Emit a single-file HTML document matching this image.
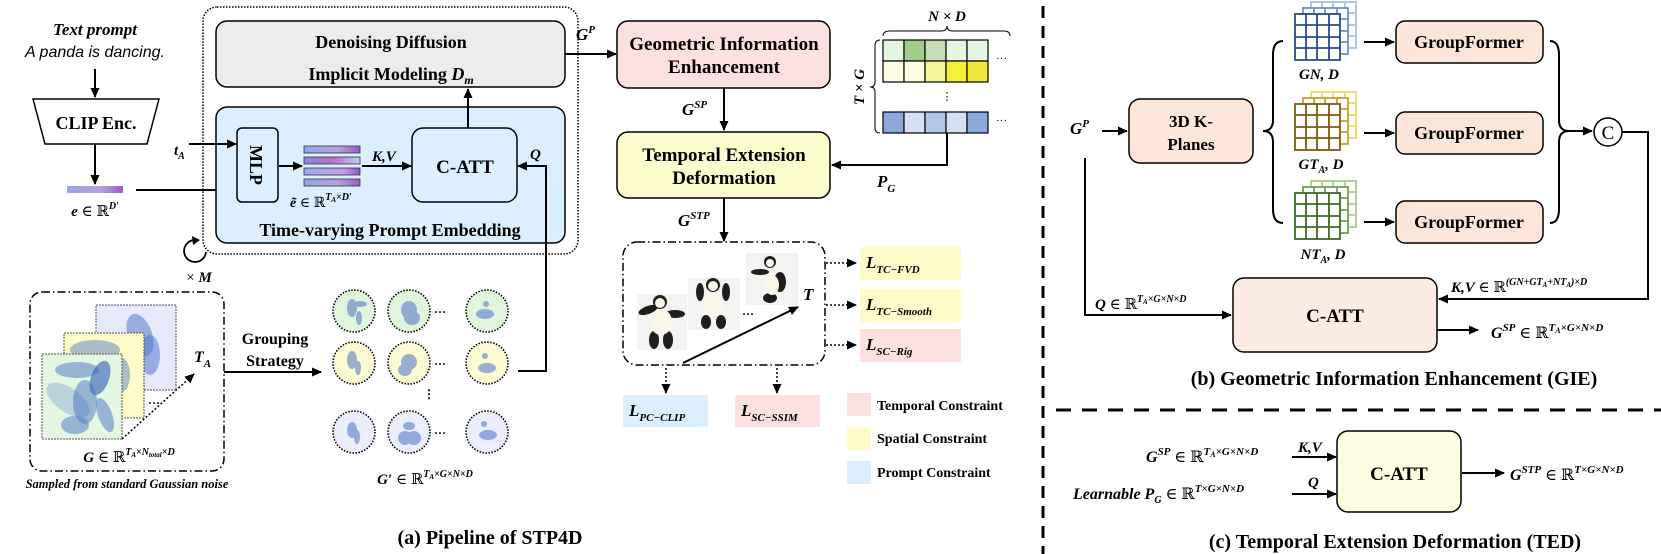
<!DOCTYPE html>
<html><head><meta charset="utf-8"><style>
html,body{margin:0;padding:0;background:#fff;}
svg{display:block;}
text{font-family:"Liberation Serif","DejaVu Serif",serif;}
.b{font-weight:bold;}
.m{font-weight:bold;font-style:italic;}
</style></head><body>
<svg width="1661" height="554" viewBox="0 0 1661 554" xmlns="http://www.w3.org/2000/svg">
<defs>
<marker id="a" markerWidth="10" markerHeight="10" refX="9" refY="5" orient="auto" markerUnits="userSpaceOnUse">
<path d="M0,0.5 L10,5 L0,9.5 z" fill="#000"/></marker>
<linearGradient id="g1" x1="0" x2="1"><stop offset="0" stop-color="#8fa7e8"/><stop offset="0.6" stop-color="#b8a0e0"/><stop offset="1" stop-color="#9a5ccc"/></linearGradient>
<linearGradient id="g2" x1="0" x2="1"><stop offset="0" stop-color="#7f8fe0"/><stop offset="0.5" stop-color="#c06ad0"/><stop offset="1" stop-color="#b8d0f4"/></linearGradient>
<linearGradient id="g3" x1="0" x2="1"><stop offset="0" stop-color="#9aaaf0"/><stop offset="0.7" stop-color="#c0a0e8"/><stop offset="1" stop-color="#9050c8"/></linearGradient>
</defs>

<!-- ============ LEFT PANEL ============ -->
<text x="95" y="35" text-anchor="middle" class="m" font-size="17">Text prompt</text>
<text x="95" y="57" text-anchor="middle" font-family="Liberation Sans" font-style="italic" font-size="16" style="font-family:'Liberation Sans',sans-serif">A panda is dancing.</text>
<line x1="95" y1="69" x2="95" y2="97" stroke="#000" stroke-width="2" marker-end="url(#a)"/>
<polygon points="33,99 159,99 147,144 45,144" fill="#fff" stroke="#000" stroke-width="1.5"/>
<text x="96" y="129" text-anchor="middle" class="b" font-size="18">CLIP Enc.</text>
<line x1="95" y1="144" x2="95" y2="184" stroke="#000" stroke-width="2" marker-end="url(#a)"/>
<rect x="67" y="186" width="56" height="7" fill="url(#g1)"/>
<text x="95" y="216" text-anchor="middle" font-size="15"><tspan class="m">e</tspan> ∈ ℝ<tspan class="m" font-size="10" dy="-7">D′</tspan></text>
<line x1="136" y1="190" x2="235" y2="190" stroke="#000" stroke-width="2" marker-end="url(#a)"/>

<!-- outer dotted -->
<rect x="203" y="7" width="375" height="247" rx="14" fill="none" stroke="#000" stroke-width="1.5" stroke-dasharray="1.5,1.5"/>
<!-- loop -->
<path d="M206,252 A11,11 0 1 1 196,240" fill="none" stroke="#000" stroke-width="1.8"/>
<path d="M192,236 L200,240 L193,245 z" fill="#000"/>
<text x="199" y="282" text-anchor="middle" font-size="15">× <tspan class="m">M</tspan></text>

<rect x="216" y="21" width="349" height="66" rx="11" fill="#ececec" stroke="#000" stroke-width="1.5"/>
<text x="391" y="48" text-anchor="middle" class="b" font-size="18">Denoising Diffusion</text>
<text x="391" y="80" text-anchor="middle" class="b" font-size="18">Implicit Modeling <tspan font-style="italic">D</tspan><tspan class="m" font-size="12" dy="4">m</tspan></text>

<rect x="216" y="107" width="349" height="136" rx="11" fill="#dcefff" stroke="#000" stroke-width="1.5"/>
<text x="390" y="236" text-anchor="middle" class="b" font-size="18">Time-varying Prompt Embedding</text>
<rect x="237" y="128" width="41" height="74" rx="5" fill="#dcefff" stroke="#000" stroke-width="1.5"/>
<text transform="translate(250,165) rotate(90)" text-anchor="middle" class="b" font-size="18">MLP</text>
<text x="174" y="155" class="m" font-size="15">t<tspan font-size="10" dy="4">A</tspan></text>
<line x1="189" y1="144" x2="236" y2="144" stroke="#000" stroke-width="2" marker-end="url(#a)"/>
<line x1="279" y1="166" x2="302" y2="166" stroke="#000" stroke-width="2" marker-end="url(#a)"/>
<rect x="304" y="146" width="56" height="7" fill="url(#g1)" stroke="#333" stroke-width="0.8"/>
<rect x="304" y="157" width="56" height="7" fill="url(#g2)" stroke="#333" stroke-width="0.8"/>
<rect x="304" y="168" width="56" height="7" fill="url(#g3)" stroke="#333" stroke-width="0.8"/>
<rect x="304" y="179" width="56" height="7" fill="url(#g1)" stroke="#333" stroke-width="0.8"/>
<text x="290" y="207" font-size="14"><tspan class="m">ẽ</tspan> ∈ ℝ<tspan class="m" font-size="10" dy="-7">T</tspan><tspan class="m" font-size="7" dy="2">A</tspan><tspan class="m" font-size="10" dy="-2">×D′</tspan></text>
<text x="372" y="161" class="m" font-size="15">K,V</text>
<line x1="362" y1="166" x2="411" y2="166" stroke="#000" stroke-width="2" marker-end="url(#a)"/>
<rect x="412" y="128" width="105" height="74" rx="11" fill="#dcefff" stroke="#000" stroke-width="1.5"/>
<text x="465" y="173" text-anchor="middle" class="b" font-size="19">C-ATT</text>
<line x1="468" y1="128" x2="468" y2="89" stroke="#000" stroke-width="2" marker-end="url(#a)"/>
<text x="530" y="159" class="m" font-size="15">Q</text>
<polyline points="518,371 546,371 546,166 518,166" fill="none" stroke="#000" stroke-width="2" marker-end="url(#a)"/>

<!-- noise box -->
<rect x="30" y="292" width="194" height="179" rx="12" fill="none" stroke="#000" stroke-width="1.5" stroke-dasharray="8,3,1.5,3"/>
<rect x="96" y="305" width="80" height="85" fill="#e6e8fb" stroke="#555" stroke-width="1" stroke-dasharray="2,1"/>
<ellipse cx="140" cy="335" rx="12" ry="22" fill="#4a72c4" opacity="0.5" transform="rotate(-20 140 335)"/>
<ellipse cx="150" cy="355" rx="10" ry="20" fill="#4a72c4" opacity="0.5"/>
<ellipse cx="125" cy="345" rx="16" ry="8" fill="#4a72c4" opacity="0.5"/>
<rect x="64" y="333" width="80" height="85" fill="#fdfbc8" stroke="#555" stroke-width="1" stroke-dasharray="2,1"/>
<ellipse cx="95" cy="350" rx="25" ry="10" fill="#4a72c4" opacity="0.45"/>
<ellipse cx="120" cy="375" rx="10" ry="18" fill="#4a72c4" opacity="0.45"/>
<rect x="42" y="354" width="80" height="85" fill="#e4f7e0" stroke="#555" stroke-width="1" stroke-dasharray="2,1"/>
<ellipse cx="77" cy="370" rx="22" ry="8" fill="#4a72c4" opacity="0.5"/>
<ellipse cx="100" cy="378" rx="9" ry="18" fill="#2f5cb8" opacity="0.6" transform="rotate(20 100 378)"/>
<ellipse cx="68" cy="400" rx="25" ry="12" fill="#6a8fcf" opacity="0.35" transform="rotate(35 68 400)"/>
<ellipse cx="85" cy="402" rx="12" ry="22" fill="#4a72c4" opacity="0.5"/>
<ellipse cx="105" cy="415" rx="7" ry="18" fill="#4a72c4" opacity="0.5" transform="rotate(-20 105 415)"/>
<ellipse cx="75" cy="425" rx="14" ry="9" fill="#4a72c4" opacity="0.5"/>
<text x="148" y="407" font-size="12" class="b">···</text>
<line x1="122" y1="439" x2="194" y2="374" stroke="#000" stroke-width="1.5" stroke-dasharray="2,2" marker-end="url(#a)"/>
<text x="194" y="362" class="m" font-size="16">T<tspan font-size="11" dy="5">A</tspan></text>
<text x="129" y="462" text-anchor="middle" font-size="15"><tspan class="m">G</tspan> ∈ ℝ<tspan class="m" font-size="10" dy="-7">T</tspan><tspan class="m" font-size="7" dy="2">A</tspan><tspan class="m" font-size="10" dy="-2">×N</tspan><tspan class="m" font-size="7" dy="2">total</tspan><tspan class="m" font-size="10" dy="-2">×D</tspan></text>
<text x="127" y="488" text-anchor="middle" class="m" font-size="12.5">Sampled from standard Gaussian noise</text>

<text x="275" y="344" text-anchor="middle" class="b" font-size="16">Grouping</text>
<text x="275" y="366" text-anchor="middle" class="b" font-size="16">Strategy</text>
<line x1="224" y1="372" x2="321" y2="372" stroke="#000" stroke-width="2" marker-end="url(#a)"/>

<!-- circles -->
<g stroke="#000" stroke-width="1.6" stroke-dasharray="1.5,1.5">
<circle cx="354" cy="311" r="21" fill="#e0f5dc"/><circle cx="409" cy="311" r="21" fill="#e0f5dc"/><circle cx="487" cy="311" r="21" fill="#e0f5dc"/>
<circle cx="354" cy="363" r="21" fill="#fdfbd4"/><circle cx="409" cy="363" r="21" fill="#fdfbd4"/><circle cx="487" cy="363" r="21" fill="#fdfbd4"/>
<circle cx="354" cy="432" r="21" fill="#eceefc"/><circle cx="409" cy="432" r="21" fill="#eceefc"/><circle cx="487" cy="432" r="21" fill="#eceefc"/>
</g>
<g fill="#4a72c4" opacity="0.55">
<ellipse cx="352" cy="308" rx="5" ry="9"/><ellipse cx="360" cy="304" rx="7" ry="3"/><ellipse cx="359" cy="318" rx="3" ry="7"/>
<ellipse cx="409" cy="310" rx="8" ry="9"/><ellipse cx="412" cy="318" rx="8" ry="7"/><ellipse cx="485" cy="314" rx="9" ry="5"/><circle cx="486" cy="304" r="3"/>
<ellipse cx="352" cy="360" rx="5" ry="9"/><ellipse cx="358" cy="368" rx="3" ry="7"/>
<ellipse cx="409" cy="362" rx="8" ry="8"/><ellipse cx="405" cy="370" rx="7" ry="6"/><ellipse cx="487" cy="368" rx="9" ry="5"/><circle cx="485" cy="356" r="3"/>
<ellipse cx="352" cy="430" rx="5" ry="8"/><ellipse cx="357" cy="437" rx="3" ry="7"/>
<ellipse cx="405" cy="438" rx="7" ry="7"/><ellipse cx="414" cy="438" rx="7" ry="7"/><ellipse cx="409" cy="426" rx="6" ry="4"/><ellipse cx="488" cy="435" rx="9" ry="5"/><circle cx="484" cy="424" r="3"/>
</g>
<text x="434" y="316" class="b" font-size="12">···</text>
<text x="434" y="368" class="b" font-size="12">···</text>
<text x="434" y="437" class="b" font-size="12">···</text>
<text x="429" y="398" text-anchor="middle" class="b" font-size="12">⋮</text>
<text x="425" y="484" text-anchor="middle" font-size="15"><tspan class="m">G′</tspan> ∈ ℝ<tspan class="m" font-size="10" dy="-7">T</tspan><tspan class="m" font-size="7" dy="2">A</tspan><tspan class="m" font-size="10" dy="-2">×G×N×D</tspan></text>

<text x="490" y="544" text-anchor="middle" class="b" font-size="20">(a) Pipeline of STP4D</text>

<!-- ============ MIDDLE ============ -->
<text x="576" y="40" class="m" font-size="17">G<tspan font-size="11" dy="-7">P</tspan></text>
<line x1="565" y1="54" x2="616" y2="54" stroke="#000" stroke-width="2" marker-end="url(#a)"/>
<rect x="617" y="21" width="213" height="67" rx="11" fill="#fde0e0" stroke="#000" stroke-width="1.5"/>
<text x="724" y="50" text-anchor="middle" class="b" font-size="19">Geometric Information</text>
<text x="724" y="73" text-anchor="middle" class="b" font-size="19">Enhancement</text>
<line x1="724" y1="88" x2="724" y2="130" stroke="#000" stroke-width="2" marker-end="url(#a)"/>
<text x="682" y="115" class="m" font-size="17">G<tspan font-size="11" dy="-7">SP</tspan></text>
<rect x="617" y="132" width="213" height="66" rx="11" fill="#fdfccc" stroke="#000" stroke-width="1.5"/>
<text x="724" y="161" text-anchor="middle" class="b" font-size="19">Temporal Extension</text>
<text x="724" y="184" text-anchor="middle" class="b" font-size="19">Deformation</text>
<line x1="724" y1="198" x2="724" y2="241" stroke="#000" stroke-width="2" marker-end="url(#a)"/>
<text x="678" y="226" class="m" font-size="17">G<tspan font-size="11" dy="-7">STP</tspan></text>

<rect x="623" y="242" width="202" height="123" rx="14" fill="none" stroke="#000" stroke-width="1.5" stroke-dasharray="8,3,1.5,3"/>
<!-- pandas -->
<g>
<rect x="637" y="294" width="50" height="56" fill="#f3f3f1"/>
<rect x="688" y="278" width="52" height="52" fill="#f3f3f1"/>
<rect x="746" y="253" width="52" height="52" fill="#f3f3f1"/>
<g fill="#1e1e1e">
<circle cx="660" cy="302" r="7"/><ellipse cx="648" cy="310" rx="10" ry="4" transform="rotate(-20 648 310)"/><ellipse cx="675" cy="314" rx="10" ry="4"/><ellipse cx="654" cy="340" rx="5" ry="9"/><ellipse cx="668" cy="340" rx="5" ry="9"/>
<circle cx="713" cy="285" r="7"/><ellipse cx="700" cy="292" rx="4" ry="9"/><ellipse cx="726" cy="292" rx="4" ry="9"/><ellipse cx="706" cy="322" rx="5" ry="7"/><ellipse cx="721" cy="322" rx="5" ry="7"/>
<circle cx="770" cy="262" r="6"/><ellipse cx="760" cy="272" rx="9" ry="3"/><ellipse cx="780" cy="282" rx="6" ry="10"/><ellipse cx="770" cy="298" rx="7" ry="5"/>
</g>
<g fill="#faf6e8"><ellipse cx="661" cy="322" rx="11" ry="13"/><ellipse cx="713" cy="305" rx="10" ry="12"/><ellipse cx="772" cy="285" rx="7" ry="10"/>
<circle cx="660" cy="303" r="5"/><circle cx="713" cy="286" r="5"/><circle cx="770" cy="263" r="4"/></g>
</g>
<text x="742" y="318" class="b" font-size="12">···</text>
<line x1="683" y1="363" x2="798" y2="307" stroke="#000" stroke-width="2" marker-end="url(#a)"/>
<text x="803" y="300" class="m" font-size="17">T</text>

<g stroke="#000" stroke-width="1.5" stroke-dasharray="2,2">
<line x1="826" y1="263" x2="856" y2="263" marker-end="url(#a)"/>
<line x1="826" y1="305" x2="856" y2="305" marker-end="url(#a)"/>
<line x1="826" y1="345" x2="856" y2="345" marker-end="url(#a)"/>
<line x1="666" y1="368" x2="666" y2="393" marker-end="url(#a)"/>
<line x1="777" y1="368" x2="777" y2="393" marker-end="url(#a)"/>
</g>
<rect x="860" y="247" width="101" height="33" fill="#fdfbc8"/>
<rect x="860" y="289" width="101" height="33" fill="#fdfbc8"/>
<rect x="860" y="329" width="101" height="33" fill="#fde0e0"/>
<rect x="623" y="395" width="85" height="32" fill="#dcefff"/>
<rect x="735" y="395" width="85" height="32" fill="#fde0e0"/>
<text x="866" y="268" class="m" font-size="17">L<tspan font-size="11" dy="5">TC−FVD</tspan></text>
<text x="866" y="310" class="m" font-size="17">L<tspan font-size="11" dy="5">TC−Smooth</tspan></text>
<text x="866" y="350" class="m" font-size="17">L<tspan font-size="11" dy="5">SC−Rig</tspan></text>
<text x="629" y="416" class="m" font-size="17">L<tspan font-size="11" dy="5">PC−CLIP</tspan></text>
<text x="741" y="416" class="m" font-size="17">L<tspan font-size="11" dy="5">SC−SSIM</tspan></text>

<rect x="847" y="393" width="24" height="23" fill="#fde0e0"/>
<rect x="847" y="427" width="24" height="23" fill="#fdfbc8"/>
<rect x="847" y="461" width="24" height="23" fill="#dcefff"/>
<text x="877" y="410" class="b" font-size="14">Temporal Constraint</text>
<text x="877" y="443" class="b" font-size="14">Spatial Constraint</text>
<text x="877" y="477" class="b" font-size="14">Prompt Constraint</text>

<!-- grid -->
<text x="947" y="21" text-anchor="middle" class="m" font-size="15">N × D</text>
<path d="M883,36 Q883,31 890,31 L941,31 Q947,31 947,26 Q947,31 953,31 L1004,31 Q1010,31 1010,36" fill="none" stroke="#000" stroke-width="1"/>
<path d="M880,40 Q875,40 875,46 L875,82 Q875,87 870,87 Q875,87 875,92 L875,128 Q875,133 880,133" fill="none" stroke="#000" stroke-width="1"/>
<text transform="translate(864,87) rotate(-90)" text-anchor="middle" class="m" font-size="15">T × G</text>
<g stroke="#000" stroke-width="1.2">
<rect x="883" y="40" width="21" height="21" fill="#e4f7e0"/><rect x="904" y="40" width="21" height="21" fill="#a2cc8a"/><rect x="925" y="40" width="21" height="21" fill="#c6ddb6"/><rect x="946" y="40" width="21" height="21" fill="#e4f7e0"/><rect x="967" y="40" width="21" height="21" fill="#e4f7e0"/>
<rect x="883" y="61" width="21" height="21" fill="#fefde2"/><rect x="904" y="61" width="21" height="21" fill="#fefde2"/><rect x="925" y="61" width="21" height="21" fill="#f7f39a"/><rect x="946" y="61" width="21" height="21" fill="#f5ef3a"/><rect x="967" y="61" width="21" height="21" fill="#eee838"/>
<rect x="883" y="112" width="21" height="21" fill="#8aa8dc"/><rect x="904" y="112" width="21" height="21" fill="#d6e0f3"/><rect x="925" y="112" width="21" height="21" fill="#b2c6e8"/><rect x="946" y="112" width="21" height="21" fill="#d6e0f3"/><rect x="967" y="112" width="21" height="21" fill="#8aa8dc"/>
</g>
<text x="947" y="100" text-anchor="middle" font-size="11">⋮</text>
<text x="996" y="62" font-size="11">···</text>
<text x="996" y="124" font-size="11">···</text>
<polyline points="947,133 947,165 832,165" fill="none" stroke="#000" stroke-width="2" marker-end="url(#a)"/>
<text x="877" y="187" class="m" font-size="17">P<tspan font-size="11" dy="5">G</tspan></text>

<!-- dashed separators -->
<line x1="1043" y1="6" x2="1043" y2="554" stroke="#000" stroke-width="3" stroke-dasharray="12,8"/>
<line x1="1056" y1="410" x2="1661" y2="410" stroke="#000" stroke-width="3" stroke-dasharray="15,11"/>

<!-- ============ GIE ============ -->
<text x="1070" y="134" class="m" font-size="17">G<tspan font-size="11" dy="-7">P</tspan></text>
<line x1="1102" y1="131" x2="1127" y2="131" stroke="#000" stroke-width="2" marker-end="url(#a)"/>
<rect x="1129" y="99" width="124" height="64" rx="11" fill="#fbe6d9" stroke="#000" stroke-width="1.5"/>
<text x="1191" y="127" text-anchor="middle" class="b" font-size="17">3D K-</text>
<text x="1191" y="150" text-anchor="middle" class="b" font-size="17">Planes</text>
<path d="M1283,41 Q1273,41 1273,55 L1273,120 Q1273,131 1263,131 Q1273,131 1273,142 L1273,209 Q1273,223 1283,223" fill="none" stroke="#000" stroke-width="2"/>

<!-- grids -->
<g fill="#fff" stroke-width="1.8">
<g stroke="#a8c0ec"><rect x="1311" y="2" width="45" height="46"/><path d="M1322,2V48M1333,2V48M1345,2V48M1311,13H1356M1311,25H1356M1311,36H1356" fill="none"/></g>
<g stroke="#6f8fd0"><rect x="1303" y="8" width="45" height="46"/><path d="M1314,8V54M1325,8V54M1337,8V54M1303,19H1348M1303,31H1348M1303,42H1348" fill="none"/></g>
<g stroke="#2c4a8c"><rect x="1295" y="14" width="45" height="46"/><path d="M1306,14V60M1317,14V60M1329,14V60M1295,25H1340M1295,37H1340M1295,48H1340" fill="none"/></g>

<g stroke="#f3d66a"><rect x="1311" y="92" width="45" height="46"/><path d="M1322,92V138M1333,92V138M1345,92V138M1311,103H1356M1311,115H1356M1311,126H1356" fill="none"/></g>
<g stroke="#c8a030"><rect x="1303" y="98" width="45" height="46"/><path d="M1314,98V144M1325,98V144M1337,98V144M1303,109H1348M1303,121H1348M1303,132H1348" fill="none"/></g>
<g stroke="#7e5a0c"><rect x="1295" y="104" width="45" height="46"/><path d="M1306,104V150M1317,104V150M1329,104V150M1295,115H1340M1295,127H1340M1295,138H1340" fill="none"/></g>

<g stroke="#a6d08e"><rect x="1311" y="181" width="45" height="46"/><path d="M1322,181V227M1333,181V227M1345,181V227M1311,192H1356M1311,204H1356M1311,215H1356" fill="none"/></g>
<g stroke="#6fa24e"><rect x="1303" y="187" width="45" height="46"/><path d="M1314,187V233M1325,187V233M1337,187V233M1303,198H1348M1303,210H1348M1303,221H1348" fill="none"/></g>
<g stroke="#3e6a22"><rect x="1295" y="193" width="45" height="46"/><path d="M1306,193V239M1317,193V239M1329,193V239M1295,204H1340M1295,216H1340M1295,227H1340" fill="none"/></g>
</g>
<text x="1319" y="79" text-anchor="middle" class="m" font-size="15">GN, D</text>
<text x="1321" y="169" text-anchor="middle" class="m" font-size="15">GT<tspan font-size="10" dy="4">A</tspan><tspan dy="-4">, D</tspan></text>
<text x="1323" y="259" text-anchor="middle" class="m" font-size="15">NT<tspan font-size="10" dy="4">A</tspan><tspan dy="-4">, D</tspan></text>

<line x1="1364" y1="42" x2="1394" y2="42" stroke="#000" stroke-width="2" marker-end="url(#a)"/>
<line x1="1364" y1="133" x2="1394" y2="133" stroke="#000" stroke-width="2" marker-end="url(#a)"/>
<line x1="1364" y1="222" x2="1394" y2="222" stroke="#000" stroke-width="2" marker-end="url(#a)"/>
<rect x="1396" y="21" width="147" height="42" rx="9" fill="#fbe6d9" stroke="#000" stroke-width="1.5"/>
<rect x="1396" y="112" width="147" height="42" rx="9" fill="#fbe6d9" stroke="#000" stroke-width="1.5"/>
<rect x="1396" y="201" width="147" height="42" rx="9" fill="#fbe6d9" stroke="#000" stroke-width="1.5"/>
<text x="1469" y="48" text-anchor="middle" class="b" font-size="18">GroupFormer</text>
<text x="1469" y="139" text-anchor="middle" class="b" font-size="18">GroupFormer</text>
<text x="1469" y="228" text-anchor="middle" class="b" font-size="18">GroupFormer</text>
<path d="M1550,41 Q1559,41 1559,55 L1559,120 Q1559,131 1569,131 Q1559,131 1559,142 L1559,209 Q1559,223 1550,223" fill="none" stroke="#000" stroke-width="2"/>
<line x1="1569" y1="131" x2="1592" y2="131" stroke="#000" stroke-width="2" marker-end="url(#a)"/>
<circle cx="1608" cy="132" r="14" fill="#fff" stroke="#000" stroke-width="1.5"/>
<text x="1608" y="139" text-anchor="middle" font-size="19">C</text>
<polyline points="1622,132 1648,132 1648,299 1439,299" fill="none" stroke="#000" stroke-width="2" marker-end="url(#a)"/>
<text x="1451" y="292" font-size="15"><tspan class="m">K,V</tspan> ∈ ℝ<tspan class="m" font-size="10" dy="-7">(GN+GT</tspan><tspan class="m" font-size="7" dy="2">A</tspan><tspan class="m" font-size="10" dy="-2">+NT</tspan><tspan class="m" font-size="7" dy="2">A</tspan><tspan class="m" font-size="10" dy="-2">)×D</tspan></text>
<polyline points="1085,158 1085,315 1231,315" fill="none" stroke="#000" stroke-width="2" marker-end="url(#a)"/>
<text x="1095" y="309" font-size="15"><tspan class="m">Q</tspan> ∈ ℝ<tspan class="m" font-size="10" dy="-7">T</tspan><tspan class="m" font-size="7" dy="2">A</tspan><tspan class="m" font-size="10" dy="-2">×G×N×D</tspan></text>
<rect x="1233" y="278" width="204" height="74" rx="11" fill="#fcece3" stroke="#000" stroke-width="1.5"/>
<text x="1335" y="322" text-anchor="middle" class="b" font-size="19">C-ATT</text>
<line x1="1437" y1="330" x2="1478" y2="330" stroke="#000" stroke-width="2" marker-end="url(#a)"/>
<text x="1491" y="338" font-size="16"><tspan class="m">G</tspan><tspan class="m" font-size="11" dy="-7">SP</tspan><tspan dy="7"> ∈ ℝ</tspan><tspan class="m" font-size="11" dy="-7">T</tspan><tspan class="m" font-size="8" dy="2">A</tspan><tspan class="m" font-size="11" dy="-2">×G×N×D</tspan></text>
<text x="1394" y="385" text-anchor="middle" class="b" font-size="20">(b) Geometric Information Enhancement (GIE)</text>

<!-- ============ TED ============ -->
<text x="1146" y="462" font-size="16"><tspan class="m">G</tspan><tspan class="m" font-size="11" dy="-7">SP</tspan><tspan dy="7"> ∈ ℝ</tspan><tspan class="m" font-size="11" dy="-7">T</tspan><tspan class="m" font-size="8" dy="2">A</tspan><tspan class="m" font-size="11" dy="-2">×G×N×D</tspan></text>
<text x="1073" y="499" font-size="16"><tspan class="m">Learnable P</tspan><tspan class="m" font-size="10" dy="4">G</tspan><tspan dy="-4"> ∈ ℝ</tspan><tspan class="m" font-size="11" dy="-7">T×G×N×D</tspan></text>
<text x="1298" y="452" class="m" font-size="15">K,V</text>
<text x="1308" y="487" class="m" font-size="15">Q</text>
<line x1="1292" y1="457" x2="1336" y2="457" stroke="#000" stroke-width="2" marker-end="url(#a)"/>
<line x1="1292" y1="494" x2="1336" y2="494" stroke="#000" stroke-width="2" marker-end="url(#a)"/>
<rect x="1337" y="431" width="124" height="81" rx="11" fill="#fdfde2" stroke="#000" stroke-width="1.5"/>
<text x="1399" y="480" text-anchor="middle" class="b" font-size="19">C-ATT</text>
<line x1="1462" y1="473" x2="1504" y2="473" stroke="#000" stroke-width="2" marker-end="url(#a)"/>
<text x="1510" y="480" font-size="16"><tspan class="m">G</tspan><tspan class="m" font-size="11" dy="-7">STP</tspan><tspan dy="7"> ∈ ℝ</tspan><tspan class="m" font-size="11" dy="-7">T×G×N×D</tspan></text>
<text x="1395" y="548" text-anchor="middle" class="b" font-size="20">(c) Temporal Extension Deformation (TED)</text>
</svg>
</body></html>
